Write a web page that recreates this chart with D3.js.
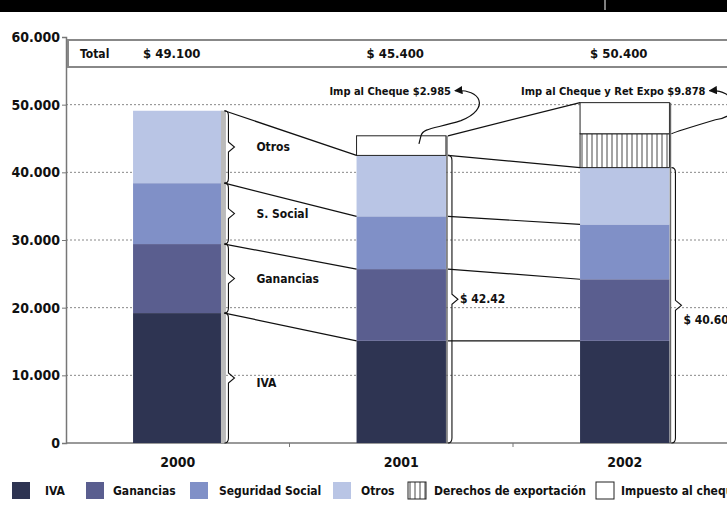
<!DOCTYPE html>
<html>
<head>
<meta charset="utf-8">
<script src="https://cdn.jsdelivr.net/npm/d3@7"></script>
<style>
	body { margin: 0; background: #fff; }
	svg { display: block; }
	text { font-family: "Liberation Sans Narrow", "DejaVu Sans Condensed", "Arial Narrow", sans-serif; font-weight: bold; fill: #111; }
</style>
</head>
<body>
<div class="container"></div>
<script>
	"use strict";

	// data (millones de $)
	var years = ["2000", "2001", "2002"];
	var ivaVals = [19200, 15100, 15100];
	var gananciasVals = [10200, 10600, 9100];
	var segSocialVals = [9000, 7800, 8100];
	var otrosVals = [10700, 9000, 8400];
	var derechosVals = [0, 0, 5000];
	var chequeVals = [0, 2900, 4600];
	var totalLabels = ["$ 49.100", "$ 45.400", "$ 50.400"];
	var subtotalLabels = ["", "$ 42.42", "$ 40.60"];
	var yTicks = [0, 10000, 20000, 30000, 40000, 50000, 60000];
	var seriesKeys = ["iva", "ganancias", "segSocial", "otros", "derechos", "cheque"];
	var legendLabels = ["IVA", "Ganancias", "Seguridad Social", "Otros", "Derechos de exportación", "Impuesto al cheque"];
	var braceLabels = ["IVA", "Ganancias", "S. Social", "Otros"];
	var chequeNotes = ["", "Imp al Cheque $2.985", "Imp al Cheque y Ret Expo $9.878"];

	var iWidth = 727;
	var iHeight = 505;
	var colors = {
		iva: "#2e3452",
		ganancias: "#5a5e8f",
		segSocial: "#8090c7",
		otros: "#b9c5e5",
		derechos: "url(#hatch)",
		cheque: "#ffffff"
	};
	var legendX = [12, 86, 190, 333, 408, 596];

	var rows = years.map(function(y, i) {
		return {
			year: y,
			iva: ivaVals[i],
			ganancias: gananciasVals[i],
			segSocial: segSocialVals[i],
			otros: otrosVals[i],
			derechos: derechosVals[i],
			cheque: chequeVals[i]
		};
	});
	var stacked = d3.stack().keys(seriesKeys)(rows);

	var x = d3.scaleBand().domain(years).range([66, 736.5]).paddingInner(0.6).paddingOuter(0.3);
	var y = d3.scaleLinear().domain([0, 60000]).range([443, 37]);
	var bw = x.bandwidth();
	var fmt = d3.formatLocale({ decimal: ",", thousands: ".", grouping: [3], currency: ["$", ""] }).format(",d");

	var oSVG = d3.select(".container")
		.append("svg")
		.attr("width", iWidth)
		.attr("height", iHeight);

	var defs = oSVG.append("defs");
	var hatch = defs.append("pattern")
		.attr("id", "hatch")
		.attr("patternUnits", "userSpaceOnUse")
		.attr("width", 5)
		.attr("height", 5);
	hatch.append("rect").attr("width", 5).attr("height", 5).attr("fill", "#fff");
	hatch.append("line").attr("x1", 2).attr("x2", 2).attr("y1", 0).attr("y2", 5)
		.attr("stroke", "#333").attr("stroke-width", 0.9);

	// arrow head pointing back toward the label
	defs.append("marker")
		.attr("id", "arrow")
		.attr("viewBox", "0 0 10 10")
		.attr("refX", 1).attr("refY", 5)
		.attr("markerWidth", 7).attr("markerHeight", 7)
		.attr("orient", "auto")
		.append("path")
		.attr("d", "M10,0 L0,5 L10,10 z")
		.attr("fill", "#111");

	// black strip on top
	oSVG.append("rect").attr("x", 0).attr("y", 0).attr("width", iWidth).attr("height", 12).attr("fill", "#000");
	oSVG.append("line").attr("x1", 605).attr("x2", 605).attr("y1", 0).attr("y2", 10)
		.attr("stroke", "#fff").attr("stroke-width", 1);

	// grid
	oSVG.append("g")
		.selectAll("line")
		.data(yTicks.filter(function(d) { return d > 0 && d < 60000; }))
		.enter()
		.append("line")
		.attr("x1", 66).attr("x2", iWidth)
		.attr("y1", function(d) { return y(d); })
		.attr("y2", function(d) { return y(d); })
		.attr("stroke", "#888")
		.attr("stroke-width", 1)
		.attr("stroke-dasharray", "2,2");

	// y axis
	var yAxis = d3.axisLeft(y).tickValues(yTicks).tickFormat(fmt).tickSize(4).tickPadding(2);
	var gy = oSVG.append("g").attr("transform", "translate(66,0)").call(yAxis);
	gy.select(".domain").attr("stroke", "#777").attr("stroke-width", 1.5);
	gy.selectAll(".tick line").attr("stroke", "#777");
	gy.selectAll("text").attr("font-size", 14).attr("font-family", null).attr("fill", "#111");

	// x axis
	var gx = oSVG.append("g").attr("transform", "translate(0,443)");
	gx.append("line").attr("x1", 66).attr("x2", iWidth).attr("y1", 0).attr("y2", 0)
		.attr("stroke", "#777").attr("stroke-width", 1.5);
	gx.selectAll(".sep")
		.data(years.slice(1))
		.enter()
		.append("line")
		.attr("x1", function(d) { return x(d) - x.step() * x.paddingInner() / 2; })
		.attr("x2", function(d) { return x(d) - x.step() * x.paddingInner() / 2; })
		.attr("y1", 0).attr("y2", 4)
		.attr("stroke", "#777");
	gx.selectAll(".yr")
		.data(years)
		.enter()
		.append("text")
		.attr("x", function(d) { return x(d) + bw / 2; })
		.attr("y", 24)
		.attr("text-anchor", "middle")
		.attr("font-size", 14)
		.text(function(d) { return d; });

	// total box
	oSVG.append("rect")
		.attr("x", 68).attr("y", 40).attr("width", 700).attr("height", 27)
		.attr("fill", "#fff").attr("stroke", "#888").attr("stroke-width", 2);
	oSVG.append("text").attr("x", 80).attr("y", 58).attr("font-size", 12).text("Total");
	oSVG.selectAll(".tot")
		.data(totalLabels)
		.enter()
		.append("text")
		.attr("x", function(d, i) { return x(years[i]) + bw / 2 - 6; })
		.attr("y", 58)
		.attr("text-anchor", "middle")
		.attr("font-size", 13)
		.text(function(d) { return d; });

	// bars
	var layers = oSVG.append("g")
		.selectAll("g")
		.data(stacked)
		.enter()
		.append("g")
		.attr("fill", function(d) { return colors[d.key]; });

	layers.selectAll("rect")
		.data(function(d) { return d.map(function(p) { return { key: d.key, p: p }; }); })
		.enter()
		.filter(function(d) { return d.p[1] > d.p[0]; })
		.append("rect")
		.attr("x", function(d) { return x(d.p.data.year); })
		.attr("y", function(d) { return y(d.p[1]); })
		.attr("width", bw)
		.attr("height", function(d) { return y(d.p[0]) - y(d.p[1]); })
		.attr("stroke", function(d) { return (d.key === "cheque" || d.key === "derechos") ? "#222" : "none"; })
		.attr("stroke-width", 1);

	// right edge of each bar
	oSVG.append("g")
		.selectAll("line")
		.data(rows)
		.enter()
		.append("line")
		.attr("x1", function(d) { return x(d.year) + bw + 1; })
		.attr("x2", function(d) { return x(d.year) + bw + 1; })
		.attr("y1", function(d, i) { return y(stacked[stacked.length - 1][i][1]); })
		.attr("y2", y(0))
		.attr("stroke", function(d, i) { return i === 0 ? "#bbb" : "#666"; })
		.attr("stroke-width", function(d, i) { return i === 0 ? 5 : 1.5; });

	// connecting lines between years
	var lineLayers = stacked.slice(0, 4);
	var conn = oSVG.append("g").attr("fill", "none").attr("stroke", "#111").attr("stroke-width", 1.2);
	lineLayers.forEach(function(layer) {
		for (var i = 0; i < years.length - 1; i++) {
			conn.append("line")
				.attr("x1", x(years[i]) + bw + 2)
				.attr("y1", y(layer[i][1]))
				.attr("x2", x(years[i + 1]))
				.attr("y2", y(layer[i + 1][1]));
		}
	});
	var topLayer = stacked[stacked.length - 1];
	conn.append("line")
		.attr("x1", x(years[1]) + bw + 2)
		.attr("y1", y(topLayer[1][1]))
		.attr("x2", x(years[2]))
		.attr("y2", y(topLayer[2][1]));

	// braces on 2000
	function bracePath(xr, y0, y1) {
		var ym = (y0 + y1) / 2;
		return "M" + xr + "," + y0 +
			" Q" + (xr + 4) + "," + y0 + " " + (xr + 4) + "," + (y0 + 5) +
			" L" + (xr + 4) + "," + (ym - 5) +
			" L" + (xr + 10) + "," + ym +
			" L" + (xr + 4) + "," + (ym + 5) +
			" L" + (xr + 4) + "," + (y1 - 5) +
			" Q" + (xr + 4) + "," + y1 + " " + xr + "," + y1;
	}
	var braces = oSVG.append("g");
	lineLayers.forEach(function(layer, k) {
		var y0 = y(layer[0][1]);
		var y1 = y(layer[0][0]);
		braces.append("path")
			.attr("d", bracePath(x(years[0]) + bw + 2, y0, y1))
			.attr("fill", "none")
			.attr("stroke", "#111")
			.attr("stroke-width", 1.1);
		braces.append("text")
			.attr("x", x(years[0]) + bw + 34)
			.attr("y", (y0 + y1) / 2 + (k === 0 ? 9 : 4))
			.attr("font-size", 12)
			.text(braceLabels[k]);
	});

	// subtotal braces on 2001 and 2002
	subtotalLabels.forEach(function(lbl, i) {
		if (!lbl) { return; }
		var y0 = y(lineLayers[3][i][1]);
		var y1 = y(0);
		braces.append("path")
			.attr("d", bracePath(x(years[i]) + bw + 2, y0, y1))
			.attr("fill", "none")
			.attr("stroke", "#111")
			.attr("stroke-width", 1.1);
		braces.append("text")
			.attr("x", x(years[i]) + bw + 14)
			.attr("y", (y0 + y1) / 2 + (i === 2 ? 19 : 4))
			.attr("font-size", 12)
			.text(lbl);
	});

	// cheque annotations
	var notes = oSVG.append("g");
	var ly = y(50000) - 14;
	// 2001
	var xe1 = x(years[1]) + bw + 5;
	var cTop1 = y(topLayer[1][1]);
	notes.append("text").attr("x", xe1).attr("y", ly + 4).attr("text-anchor", "end")
		.attr("font-size", 11).text(chequeNotes[1]);
	notes.append("path")
		.attr("d", "M" + (xe1 + 4) + "," + ly +
			" C" + (xe1 + 30) + "," + (ly - 2) + " " + (xe1 + 40) + "," + (ly + 18) + " " + (xe1 + 10) + "," + (ly + 30) +
			" C" + (xe1 - 15) + "," + (ly + 38) + " " + (xe1 - 28) + "," + (cTop1 - 8) + " " + (xe1 - 30) + "," + cTop1 +
			" L" + (xe1 - 32) + "," + (cTop1 + 8))
		.attr("fill", "none").attr("stroke", "#111").attr("stroke-width", 1.2)
		.attr("marker-start", "url(#arrow)");
	// 2002
	var xe2 = x(years[2]) + bw + 36;
	var cTop2 = y(stacked[4][2][1]);
	notes.append("text").attr("x", xe2).attr("y", ly + 4).attr("text-anchor", "end")
		.attr("font-size", 11).text(chequeNotes[2]);
	notes.append("path")
		.attr("d", "M" + (xe2 + 4) + "," + ly +
			" C" + (xe2 + 30) + "," + (ly - 2) + " " + (xe2 + 40) + "," + (ly + 25) + " " + (xe2 + 10) + "," + (cTop2 - 14) +
			" C" + (xe2 - 10) + "," + (cTop2 - 8) + " " + (xe2 - 30) + "," + (cTop2 - 2) + " " + (x(years[2]) + bw + 2) + "," + cTop2)
		.attr("fill", "none").attr("stroke", "#111").attr("stroke-width", 1.2)
		.attr("marker-start", "url(#arrow)");

	// legend
	var legend = oSVG.append("g").attr("transform", "translate(0,482)");
	var items = legend.selectAll("g")
		.data(seriesKeys)
		.enter()
		.append("g")
		.attr("transform", function(d, i) { return "translate(" + legendX[i] + ",0)"; });
	items.append("rect")
		.attr("width", 18).attr("height", 17)
		.attr("fill", function(d) { return colors[d]; })
		.attr("stroke", function(d) { return (d === "cheque" || d === "derechos") ? "#222" : "none"; });
	items.append("text")
		.attr("x", function(d, i) { return [33, 27, 29, 28, 26, 25][i]; })
		.attr("y", 13)
		.attr("font-size", 12)
		.text(function(d, i) { return legendLabels[i]; });
</script>
</body>
</html>
